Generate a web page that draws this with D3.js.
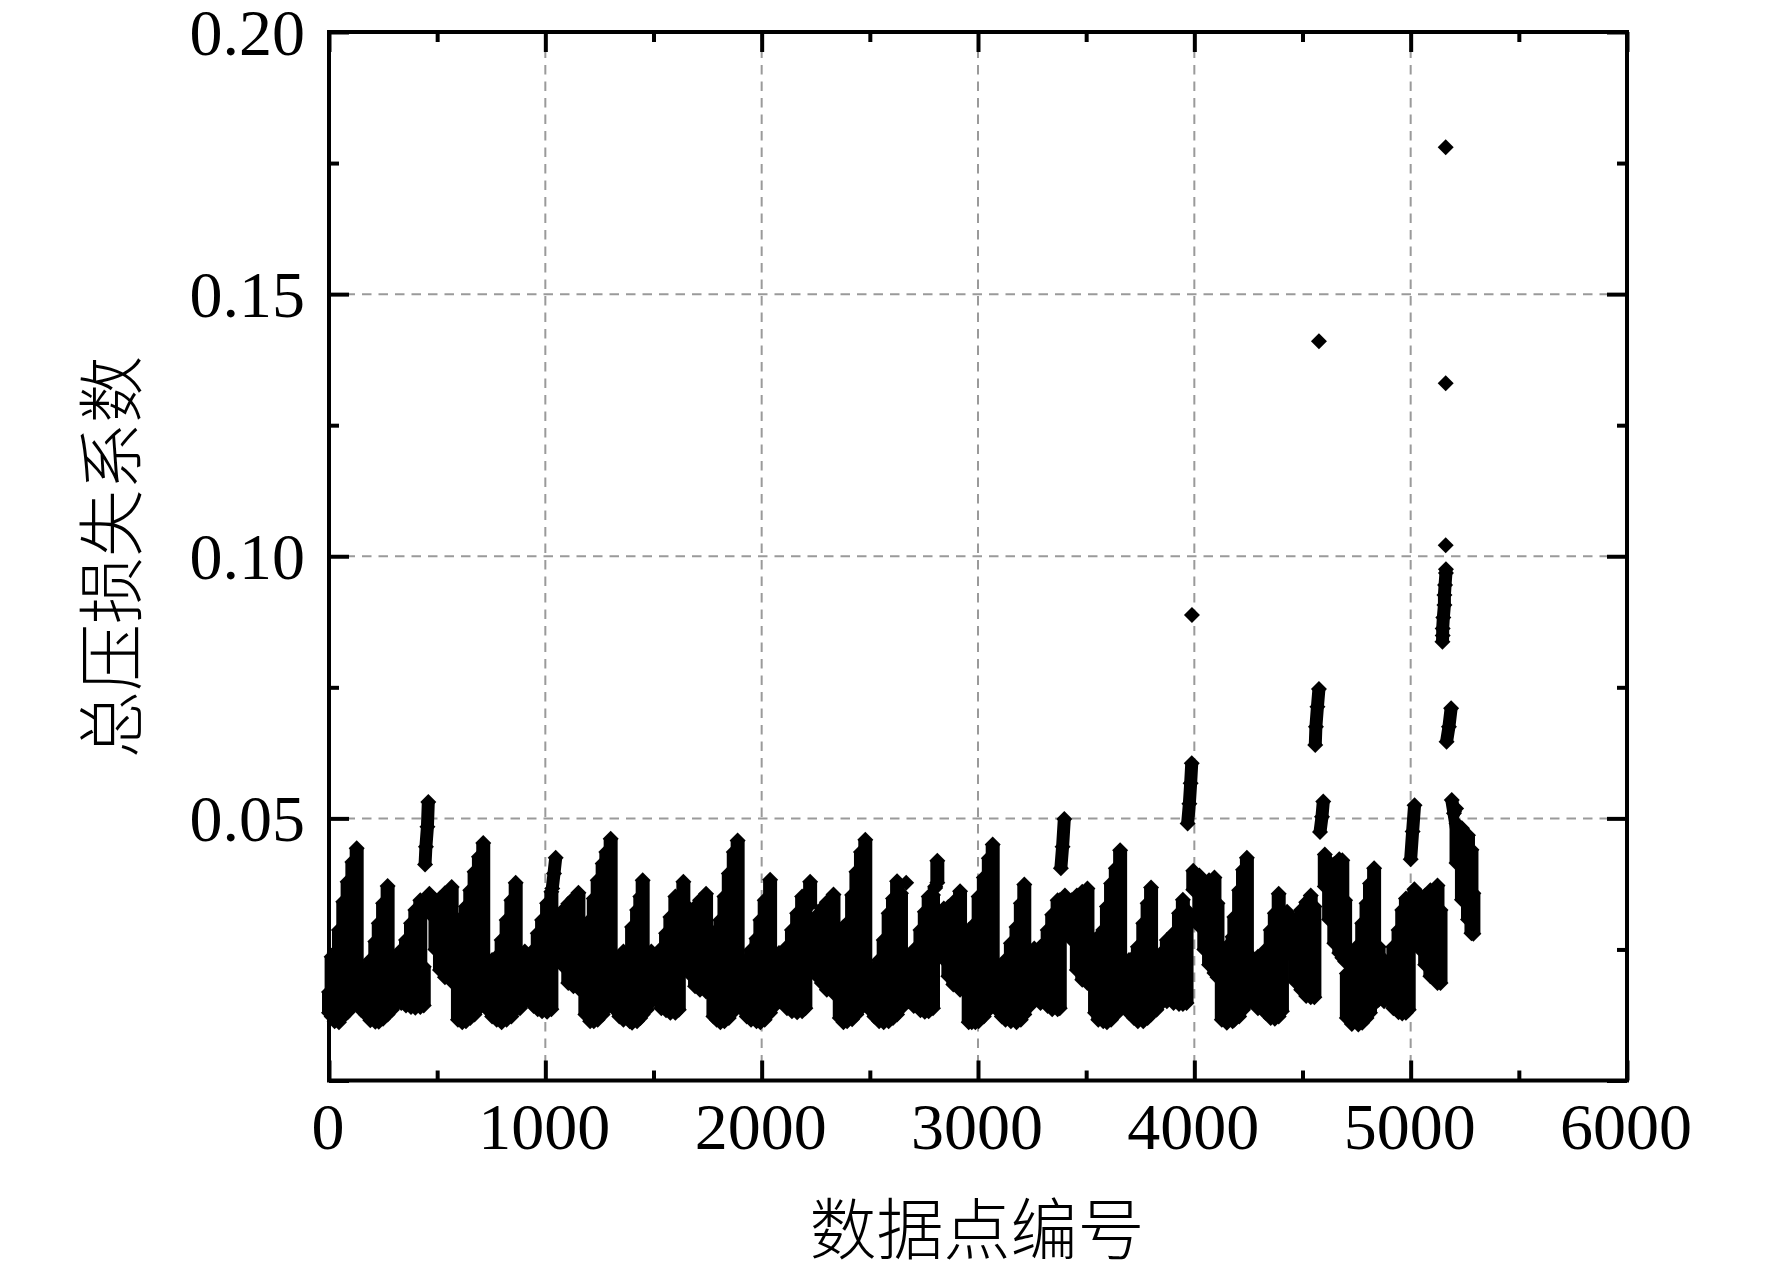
<!DOCTYPE html>
<html>
<head>
<meta charset="utf-8">
<script src="https://cdn.jsdelivr.net/npm/d3@7"></script>
<style>
  html, body { margin: 0; background: #fff; }
  svg { display: block; }
</style>
</head>
<body>
<script>
const xMajor = [0, 1000, 2000, 3000, 4000, 5000, 6000];
const xMinor = [500, 1500, 2500, 3500, 4500, 5500];
const yMajor = [0, 0.05, 0.10, 0.15, 0.20];
const yMinor = [0.025, 0.075, 0.125, 0.175];
const xTitle = "数据点编号";
const yTitle = "总压损失系数";

const colX = [
  0, 12, 26, 46, 66, 86, 108, 128, 148, 170, 191, 214, 230, 250, 271, 291, 313, 334, 356, 379, 399, 422, 438, 464, 492, 513, 536, 567,
  596, 616, 633, 653, 673, 693, 713, 733, 754, 775, 798, 821, 843, 863, 883, 905, 946, 965, 985, 1008, 1028, 1083, 1106, 1130, 1153,
  1185, 1207, 1224, 1242, 1265, 1282, 1302, 1322, 1342, 1361, 1390, 1401, 1424, 1439, 1450, 1469, 1490, 1536, 1558, 1578, 1601, 1617, 1638, 1670, 1692, 1715, 1743,
  1777, 1792, 1809, 1828, 1848, 1871, 1889, 1911, 1931, 1951, 1976, 1994, 2014, 2039, 2059, 2080, 2117, 2140, 2164, 2187, 2202, 2224, 2256, 2278, 2301, 2332,
  2361, 2378, 2395, 2418, 2438, 2459, 2479, 2500, 2521, 2543, 2564, 2587, 2607, 2626, 2644, 2678, 2703, 2734, 2754, 2772, 2792, 2802, 2812, 2842, 2863, 2886, 2917,
  2957, 2971, 2988, 3003, 3027, 3050, 3068, 3088, 3110, 3127, 3152, 3178, 3198, 3214, 3239, 3260, 3289, 3322, 3343, 3368, 3378, 3402, 3432, 3457, 3482, 3506,
  3541, 3556, 3579, 3596, 3615, 3637, 3657, 3678, 3698, 3721, 3739, 3764, 3784, 3800, 3825, 3848, 3873, 3904, 3929, 3947, 3964, 3995, 4023, 4046, 4068, 4093, 4107,
  4127, 4150, 4177, 4185, 4207, 4225, 4243, 4264, 4294, 4329, 4353, 4372, 4390, 4405, 4429, 4466, 4494, 4517, 4538, 4555, 4603, 4623, 4647, 4670, 4684, 4697,
  4705, 4728, 4758, 4776, 4796, 4812, 4831, 4852, 4877, 4920, 4944, 4961, 4978, 4991, 5017, 5044, 5067, 5091, 5124, 5138, 5212, 5237, 5265, 5281, 5290
];
const colTop = [
  .0169, .0236, .0243, .0287, .0341, .0379, .0417, .0443, .0204, .0217, .0230, .0265, .0300, .0338, .0371, .0230, .0236, .0249, .0268, .0300, .0325, .0344, .0217, .0356, .0344, .0347, .0357, .0369,
  .0293, .0312, .0332, .0363, .0398, .0427, .0453, .0217, .0230, .0236, .0268, .0306, .0344, .0377, .0230, .0246, .0249, .0281, .0306, .0338, .0360, .0325, .0337, .0347, .0358,
  .0268, .0306, .0347, .0382, .0414, .0436, .0461, .0223, .0230, .0246, .0249, .0293, .0325, .0351, .0382, .0236, .0246, .0252, .0281, .0312, .0351, .0347, .0379, .0325, .0331, .0344, .0356,
  .0281, .0274, .0306, .0351, .0395, .0436, .0458, .0223, .0230, .0249, .0271, .0306, .0344, .0383, .0230, .0243, .0255, .0287, .0319, .0351, .0354, .0379, .0315, .0328, .0340, .0355,
  .0287, .0293, .0300, .0354, .0398, .0436, .0459, .0217, .0211, .0230, .0268, .0319, .0347, .0380, .0357, .0230, .0249, .0287, .0322, .0351, .0354, .0370, .0419, .0328, .0331, .0340, .0361,
  .0287, .0274, .0300, .0351, .0387, .0424, .0450, .0217, .0217, .0230, .0262, .0293, .0338, .0374, .0249, .0252, .0255, .0287, .0316, .0344, .0344, .0353, .0344, .0353, .0360, .0366,
  .0268, .0274, .0287, .0332, .0376, .0405, .0439, .0230, .0230, .0236, .0255, .0300, .0338, .0368, .0230, .0243, .0268, .0281, .0319, .0345, .0325, .0400, .0391, .0379, .0382, .0387, .0338,
  .0255, .0255, .0274, .0312, .0363, .0402, .0425, .0236, .0236, .0249, .0287, .0319, .0356, .0322, .0322, .0306, .0325, .0340, .0353, .0332, .0431, .0417, .0413, .0422, .0420, .0344,
  .0204, .0217, .0258, .0300, .0338, .0376, .0405, .0255, .0230, .0255, .0287, .0325, .0347, .0344, .0365, .0353, .0353, .0363, .0372, .0325, .0490, .0481, .0468, .0440, .0357
];
const colBottom = [
  .0129, .0122, .0113, .0111, .0122, .0130, .0142, .0149, .0135, .0126, .0115, .0112, .0112, .0118, .0126, .0135, .0149, .0148, .0143, .0140, .0139, .0140, .0143, .0319, .0250, .0211, .0197, .0189,
  .0116, .0111, .0113, .0119, .0126, .0138, .0149, .0135, .0122, .0116, .0111, .0116, .0122, .0135, .0138, .0151, .0142, .0136, .0132, .0131, .0136, .0218, .0186, .0180, .0176,
  .0126, .0113, .0113, .0116, .0126, .0138, .0150, .0135, .0122, .0116, .0113, .0110, .0113, .0119, .0126, .0135, .0150, .0138, .0134, .0129, .0129, .0135, .0339, .0202, .0180, .0173, .0170,
  .0122, .0116, .0111, .0113, .0119, .0132, .0149, .0135, .0122, .0116, .0113, .0111, .0116, .0129, .0142, .0151, .0138, .0132, .0130, .0132, .0138, .0335, .0199, .0186, .0173, .0167,
  .0119, .0111, .0113, .0117, .0126, .0138, .0151, .0135, .0122, .0113, .0111, .0113, .0119, .0126, .0138, .0151, .0142, .0134, .0131, .0132, .0138, .0367, .0377, .0231, .0199, .0183, .0173,
  .0111, .0111, .0111, .0113, .0122, .0135, .0148, .0135, .0122, .0116, .0113, .0111, .0116, .0126, .0142, .0154, .0148, .0142, .0136, .0136, .0138, .0313, .0269, .0211, .0192, .0186,
  .0129, .0116, .0113, .0111, .0116, .0126, .0146, .0142, .0129, .0119, .0113, .0113, .0119, .0126, .0135, .0148, .0151, .0148, .0146, .0146, .0148, .0364, .0294, .0250, .0221, .0205, .0197,
  .0116, .0110, .0113, .0116, .0122, .0135, .0146, .0151, .0138, .0129, .0119, .0118, .0122, .0132, .0243, .0189, .0173, .0161, .0159, .0159, .0370, .0307, .0262, .0243, .0234, .0227,
  .0119, .0108, .0107, .0110, .0119, .0129, .0146, .0154, .0151, .0138, .0130, .0128, .0129, .0135, .0326, .0250, .0221, .0199, .0186, .0186, .0415, .0345, .0307, .0281, .0280
];

// runs of points standing clear of the body
const strand460X = [459, 455, 448, 444];
const strand460Y = [.0531, .0484, .0446, .0412];
const strand1050X = [1048, 1040, 1032];
const strand1050Y = [.0425, .0395, .0366];
const strand3400X = [3399, 3391, 3383];
const strand3400Y = [.0499, .0446, .0405];
const strand4000X = [3988, 3983, 3977, 3969];
const strand4000Y = [.0605, .0567, .0528, .0490];
const strand4570X = [4576, 4569, 4562, 4559];
const strand4570Y = [.0747, .0713, .0675, .0640];
const strand4590X = [4596, 4590, 4581];
const strand4590Y = [.0532, .0503, .0474];
const strand5010X = [5018, 5009, 5000];
const strand5010Y = [.0525, .0475, .0422];
const strand5175X = [5187, 5177, 5166];
const strand5175Y = [.0710, .0675, .0646];
const strand5155X = [5163, 5163, 5159, 5156, 5156, 5151, 5148, 5148, 5147];
const strand5155Y = [.0975, .0968, .0945, .0926, .0907, .0883, .0862, .0849, .0837];
const strand5200X = [5190, 5200, 5210];
const strand5200Y = [.0535, .0510, .0519];

const singleX = [5162, 5162, 5162, 4576, 3989, 2668];
const singleY = [.1780, .1330, .1021, .1410, .0888, .0377];

const strands = [
  [strand460X, strand460Y], [strand1050X, strand1050Y], [strand3400X, strand3400Y],
  [strand4000X, strand4000Y], [strand4570X, strand4570Y], [strand4590X, strand4590Y],
  [strand5010X, strand5010Y], [strand5175X, strand5175Y], [strand5155X, strand5155Y],
  [strand5200X, strand5200Y]
];

const width = 1772, height = 1273;
const left = 329, right = 1627, top_ = 32, bottom = 1080.5;
const stemWidth = 14;
const markSize = 16;

const x = d3.scaleLinear().domain([0, 6000]).range([left, right]);
const y = d3.scaleLinear().domain([0, 0.2]).range([bottom, top_]);

const svg = d3.select("body").append("svg")
  .attr("width", width)
  .attr("height", height)
  .attr("viewBox", [0, 0, width, height]);

// grid
const grid = svg.append("g")
  .attr("fill", "none")
  .attr("stroke", "#9a9a9a")
  .attr("stroke-width", 2)
  .attr("stroke-dasharray", "9.5 7");

grid.selectAll("line.v")
  .data(xMajor.slice(1, -1))
  .join("line")
  .attr("class", "v")
  .attr("x1", d => x(d)).attr("x2", d => x(d))
  .attr("y1", top_).attr("y2", bottom);

grid.selectAll("line.h")
  .data(yMajor.slice(1, -1))
  .join("line")
  .attr("class", "h")
  .attr("y1", d => y(d)).attr("y2", d => y(d))
  .attr("x1", left).attr("x2", right);

// points
const marks = svg.append("g").attr("fill", "#000").attr("stroke", "#000");
const diamond = d3.symbol().type(d3.symbolSquare).size(markSize * markSize / 2);
const drawPoint = (px, py) => marks.append("path")
  .attr("d", diamond)
  .attr("stroke", "none")
  .attr("transform", `translate(${x(px)},${y(py)}) rotate(45)`);

colX.forEach((cx, i) => {
  marks.append("line")
    .attr("x1", x(cx)).attr("x2", x(cx))
    .attr("y1", y(colTop[i])).attr("y2", y(colBottom[i]))
    .attr("stroke-width", stemWidth);
  drawPoint(cx, colTop[i]);
  drawPoint(cx, colBottom[i]);
});

const strandLine = d3.line().x(d => x(d[0])).y(d => y(d[1]));
strands.forEach(([sx, sy]) => {
  const pts = sx.map((v, i) => [v, sy[i]]);
  marks.append("path")
    .attr("d", strandLine(pts))
    .attr("fill", "none")
    .attr("stroke-width", stemWidth - 1);
  pts.forEach(p => drawPoint(p[0], p[1]));
});

singleX.forEach((v, i) => drawPoint(v, singleY[i]));

// frame and ticks
const frame = svg.append("g").attr("fill", "none").attr("stroke", "#000").attr("stroke-width", 4);
frame.append("rect")
  .attr("x", left).attr("y", top_)
  .attr("width", right - left).attr("height", bottom - top_);

const tickGroup = (axis, tx, ty) => {
  const g = svg.append("g")
    .attr("transform", `translate(${tx},${ty})`)
    .call(axis);
  g.select(".domain").remove();
  g.selectAll(".tick line").attr("stroke", "#000").attr("stroke-width", 4);
  return g;
};

const noLabel = () => "";
const inward = 20, inwardMinor = 10;

tickGroup(d3.axisBottom(x).tickValues(xMajor).tickSize(-inward).tickFormat(noLabel), 0, bottom);
tickGroup(d3.axisBottom(x).tickValues(xMinor).tickSize(-inwardMinor).tickFormat(noLabel), 0, bottom);
tickGroup(d3.axisTop(x).tickValues(xMajor).tickSize(-inward).tickFormat(noLabel), 0, top_);
tickGroup(d3.axisTop(x).tickValues(xMinor).tickSize(-inwardMinor).tickFormat(noLabel), 0, top_);
tickGroup(d3.axisLeft(y).tickValues(yMajor).tickSize(-inward).tickFormat(noLabel), left, 0);
tickGroup(d3.axisLeft(y).tickValues(yMinor).tickSize(-inwardMinor).tickFormat(noLabel), left, 0);
tickGroup(d3.axisRight(y).tickValues(yMajor).tickSize(-inward).tickFormat(noLabel), right, 0);
tickGroup(d3.axisRight(y).tickValues(yMinor).tickSize(-inwardMinor).tickFormat(noLabel), right, 0);

// tick labels
const numberFont = "'Liberation Serif', 'Times New Roman', serif";
const titleFont = "'Noto Sans CJK SC', sans-serif";

svg.append("g")
  .attr("font-family", numberFont)
  .attr("font-size", 66)
  .attr("fill", "#000")
  .attr("text-anchor", "middle")
  .selectAll("text")
  .data(xMajor)
  .join("text")
  .attr("x", d => x(d) - 1)
  .attr("y", 1149)
  .text(d => d);

svg.append("g")
  .attr("font-family", numberFont)
  .attr("font-size", 66)
  .attr("fill", "#000")
  .attr("text-anchor", "end")
  .selectAll("text")
  .data(yMajor.slice(1))
  .join("text")
  .attr("x", 305)
  .attr("y", d => y(d) + 23)
  .text(d => d3.format(".2f")(d));

// axis titles
svg.append("text")
  .attr("x", 977)
  .attr("y", 1254)
  .attr("text-anchor", "middle")
  .attr("font-family", titleFont)
  .attr("font-weight", 300)
  .attr("font-size", 67)
  .attr("fill", "#000")
  .text(xTitle);

svg.append("text")
  .attr("transform", "translate(136,557) rotate(-90)")
  .attr("text-anchor", "middle")
  .attr("font-family", titleFont)
  .attr("font-weight", 300)
  .attr("font-size", 67)
  .attr("fill", "#000")
  .text(yTitle);
</script>
</body>
</html>
